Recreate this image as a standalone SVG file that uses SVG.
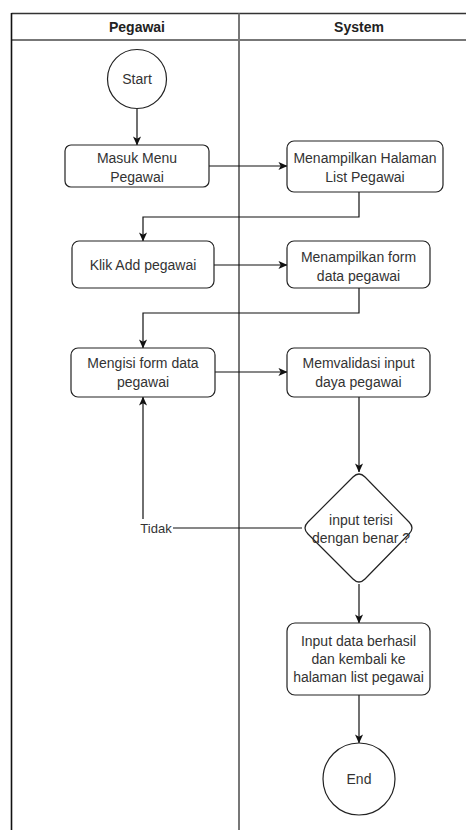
<svg xmlns="http://www.w3.org/2000/svg" width="466" height="830" viewBox="0 0 466 830">
<style>
.t{font-family:"Liberation Sans",Arial,sans-serif;font-size:14px;fill:#333;text-anchor:middle;dominant-baseline:central}
.h{font-weight:bold;fill:#222}
.box{fill:#fff;stroke:#222;stroke-width:1.2}
.e{fill:none;stroke:#111;stroke-width:1.2}
</style>
<defs>
<marker id="a" viewBox="0 0 10 10" refX="9.5" refY="5" markerWidth="9" markerHeight="9" markerUnits="userSpaceOnUse" orient="auto">
<path d="M0,0.5 L10,5 L0,9.5 L2.5,5 z" fill="#111"/>
</marker>
</defs>
<rect width="466" height="830" fill="#fff"/>
<g id="pool">
<line x1="11.5" y1="13.5" x2="466" y2="13.5" stroke="#333" stroke-width="1.5"/>
<line x1="11.5" y1="40" x2="466" y2="40" stroke="#777" stroke-width="1.8"/>
<line x1="11.5" y1="13" x2="11.5" y2="830" stroke="#111" stroke-width="1.6"/>
<line x1="239" y1="13.5" x2="239" y2="830" stroke="#777" stroke-width="2"/>
<text class="t h" x="137" y="27">Pegawai</text>
<text class="t h" x="359" y="27">System</text>
</g>
<g id="connectors">
<path class="e" d="M137,109 V145" marker-end="url(#a)"/>
<path class="e" d="M209,166 H287" marker-end="url(#a)"/>
<path class="e" d="M359,192 V217 H143 V241" marker-end="url(#a)"/>
<path class="e" d="M214,265 H287" marker-end="url(#a)"/>
<path class="e" d="M359,288 V313 H143 V348" marker-end="url(#a)"/>
<path class="e" d="M215,372 H287" marker-end="url(#a)"/>
<path class="e" d="M359,397 V472" marker-end="url(#a)"/>
<path class="e" d="M302,528 H143 V397" marker-end="url(#a)"/>
<path class="e" d="M359,584 V623" marker-end="url(#a)"/>
<path class="e" d="M359,695 V743" marker-end="url(#a)"/>
<rect x="139" y="519" width="34" height="17" fill="#fff"/>
<text class="t" style="font-size:13px" x="156" y="528">Tidak</text>
</g>
<g id="start">
<circle class="box" cx="137" cy="79" r="29.5"/>
<text class="t" x="137" y="79">Start</text>
</g>
<g id="masuk-menu">
<rect class="box" x="65" y="145" width="144" height="42" rx="6"/>
<text class="t" x="137" y="158">Masuk Menu</text>
<text class="t" x="137" y="177">Pegawai</text>
</g>
<g id="list-pegawai">
<rect class="box" x="287" y="141" width="156" height="51" rx="7"/>
<text class="t" x="365" y="158">Menampilkan Halaman</text>
<text class="t" x="365" y="177">List Pegawai</text>
</g>
<g id="klik-add">
<rect class="box" x="72" y="241" width="142" height="47" rx="7"/>
<text class="t" x="143" y="265">Klik Add pegawai</text>
</g>
<g id="form-pegawai">
<rect class="box" x="287" y="241" width="143" height="47" rx="7"/>
<text class="t" x="358.5" y="257">Menampilkan form</text>
<text class="t" x="358.5" y="276">data pegawai</text>
</g>
<g id="mengisi">
<rect class="box" x="71" y="348" width="144" height="49" rx="7"/>
<text class="t" x="143" y="363">Mengisi form data</text>
<text class="t" x="143" y="382">pegawai</text>
</g>
<g id="validasi">
<rect class="box" x="287" y="348" width="143" height="49" rx="7"/>
<text class="t" x="358.5" y="363">Memvalidasi input</text>
<text class="t" x="358.5" y="382">daya pegawai</text>
</g>
<g id="decision">
<path class="box" d="M353,477 Q359,471 365,477 L409,522 Q415,528 409,534 L365,579 Q359,585 353,579 L308,534 Q302,528 308,522 Z"/>
<text class="t" x="361" y="520">input terisi</text>
<text class="t" x="361" y="538">dengan benar ?</text>
</g>
<g id="berhasil">
<rect class="box" x="287" y="623" width="143" height="72" rx="8"/>
<text class="t" x="358.5" y="641">Input data berhasil</text>
<text class="t" x="358.5" y="659">dan kembali ke</text>
<text class="t" x="358.5" y="677">halaman list pegawai</text>
</g>
<g id="end">
<circle class="box" cx="359" cy="779" r="36"/>
<text class="t" x="359" y="779">End</text>
</g>
</svg>
